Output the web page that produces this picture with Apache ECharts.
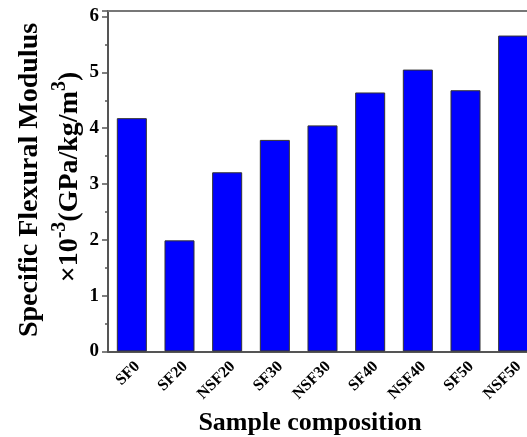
<!DOCTYPE html>
<html><head><meta charset="utf-8">
<script src="https://cdn.jsdelivr.net/npm/echarts@6/dist/echarts.min.js"></script>
<style>html,body{margin:0;padding:0;background:#fff}#c{width:527px;height:437px}</style>
</head><body><div id="c"></div>
<script>
const categories = ['SF0','SF20','NSF20','SF30','NSF30','SF40','NSF40','SF50','NSF50'];
const modulus = [4.18, 1.99, 3.21, 3.79, 4.05, 4.64, 5.05, 4.68, 5.66];
const yTicks = [0,1,2,3,4,5,6];

const F = '"Liberation Serif","Times New Roman",serif';
const chart = echarts.init(document.getElementById('c'), null, {renderer:'canvas'});
chart.setOption({
  animation:false,
  backgroundColor:'#fff',
  grid:{left:108, top:11, width:429, height:340.4, containLabel:false, outerBoundsMode:'none'},
  xAxis:[{
    type:'category', data:categories, position:'bottom',
    axisLine:{lineStyle:{color:'#555', width:2}},
    axisTick:{alignWithLabel:true, length:6, lineStyle:{color:'#555', width:1.5}},
    axisLabel:{rotate:45, margin:7, verticalAlign:'top', fontFamily:F, fontWeight:'bold', fontSize:16, color:'#000'}
  },{
    type:'category', data:categories, position:'top',
    axisLine:{lineStyle:{color:'#777', width:2}},
    axisTick:{show:false}, axisLabel:{show:false}
  }],
  yAxis:{
    type:'value', min:0, max:6.1, interval:1,
    axisLine:{show:true, lineStyle:{color:'#555', width:2}},
    axisTick:{show:true, length:6, lineStyle:{color:'#555', width:1.5}},
    minorTick:{show:true, splitNumber:2, length:3, lineStyle:{color:'#555', width:1.5}},
    splitLine:{show:false},
    axisLabel:{margin:9, fontFamily:F, fontWeight:'bold', fontSize:19, color:'#000',
      formatter:v=> yTicks.includes(v) ? String(v) : ''}
  },
  series:[{
    type:'bar', data:modulus, barWidth:'63%', xAxisIndex:0,
    itemStyle:{color:'#0000ff', borderColor:'#333', borderWidth:1}
  }],
  graphic:[
    {type:'text', x:30, y:180, rotation:Math.PI/2,
      style:{text:'Specific Flexural Modulus', fontFamily:F, fontWeight:'bold', fontSize:28,
        fill:'#000', align:'center', verticalAlign:'middle'}},
    {type:'text', x:67, y:177, rotation:Math.PI/2,
      style:{text:'{b|×10}{s|-3}{b|(GPa/kg/m}{s|3}{b|)}', align:'center', verticalAlign:'middle',
        rich:{
          b:{fontFamily:F, fontWeight:'bold', fontSize:28, fill:'#000', lineHeight:34, verticalAlign:'bottom'},
          s:{fontFamily:F, fontWeight:'bold', fontSize:20, fill:'#000', lineHeight:20, verticalAlign:'top'}
        }}},
    {type:'text', x:310, y:423,
      style:{text:'Sample composition', fontFamily:F, fontWeight:'bold', fontSize:26,
        fill:'#000', align:'center', verticalAlign:'middle'}}
  ]
});
</script></body></html>
